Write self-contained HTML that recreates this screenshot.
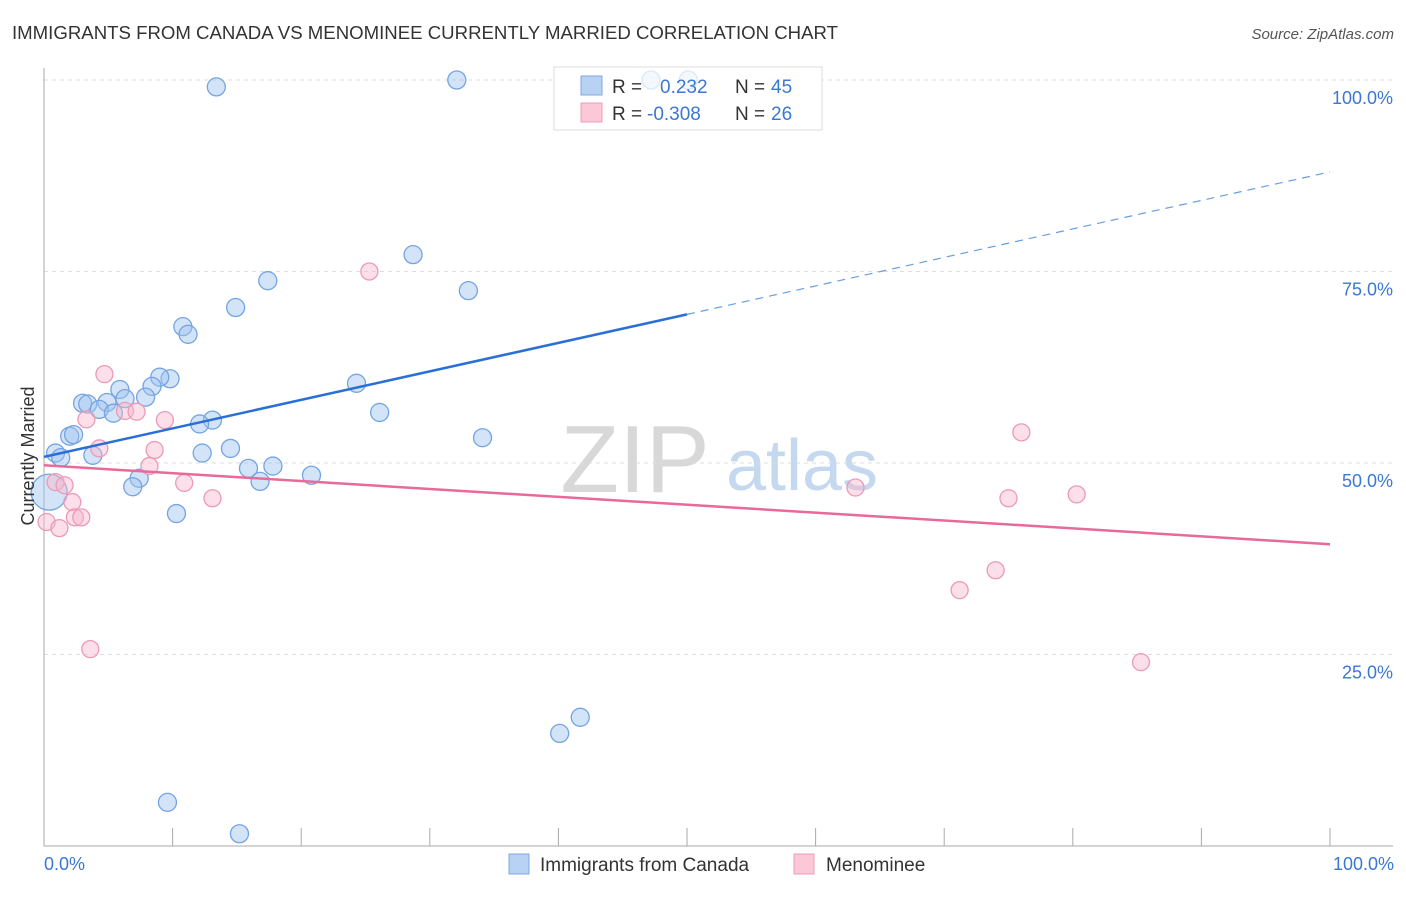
<!DOCTYPE html>
<html><head><meta charset="utf-8"><style>
body{margin:0;background:#fff;font-family:"Liberation Sans",sans-serif;}
svg text{font-family:"Liberation Sans",sans-serif;}
</style></head><body>
<svg width="1406" height="892" xmlns="http://www.w3.org/2000/svg" id="chart">
<text x="12" y="39" font-size="18" fill="#333" textLength="826" lengthAdjust="spacingAndGlyphs">IMMIGRANTS FROM CANADA VS MENOMINEE CURRENTLY MARRIED CORRELATION CHART</text>
<text x="1394" y="39" font-size="15" fill="#555" font-style="italic" text-anchor="end">Source: ZipAtlas.com</text>
<g>
<text x="635" y="492" font-size="96" fill="#d8d8d8" font-family="Liberation Serif,serif" text-anchor="middle">ZIP</text>
<text x="802" y="490" font-size="72" fill="#c4d8f0" text-anchor="middle">atlas</text>
</g>
<g id="grid"></g>
<g id="axes"></g>
<g>
<rect x="554" y="67" width="268" height="63" fill="#fff" stroke="#ddd"/>
</g>
<g id="marks"></g>
<g>
<rect x="554" y="67" width="268" height="63" fill="rgba(255,255,255,0.75)" stroke="#ddd"/>
<rect x="581" y="76" width="21" height="19" fill="#b8d2f4" stroke="#7ea8e4"/>
<rect x="581" y="103" width="21" height="19" fill="#fbc8d8" stroke="#ee9cb8"/>
<text x="612" y="93" font-size="19" fill="#333">R = </text>
<text x="660" y="93" font-size="19" fill="#3a78d4">0.232</text>
<text x="735" y="93" font-size="19" fill="#333">N = </text>
<text x="771" y="93" font-size="19" fill="#3a78d4">45</text>
<text x="612" y="120" font-size="19" fill="#333">R = </text>
<text x="647" y="120" font-size="19" fill="#3a78d4">-0.308</text>
<text x="735" y="120" font-size="19" fill="#333">N = </text>
<text x="771" y="120" font-size="19" fill="#3a78d4">26</text>
</g>
<text transform="translate(34,456) rotate(-90)" font-size="18" fill="#333" text-anchor="middle">Currently Married</text>
<text x="44" y="870" font-size="18" fill="#3a78d4">0.0%</text>
<text x="1394" y="870" font-size="18" fill="#3a78d4" text-anchor="end">100.0%</text>
<g>
<rect x="509" y="854" width="20" height="20" fill="#b8d2f4" stroke="#7ea8e4"/>
<text x="540" y="871" font-size="19" fill="#333">Immigrants from Canada</text>
<rect x="794" y="854" width="20" height="20" fill="#fbc8d8" stroke="#ee9cb8"/>
<text x="826" y="871" font-size="19" fill="#333">Menominee</text>
</g>
</svg>
<script>
const blueX=[13.4,32.1,47.2,50.1,28.7,17.4,33.0,14.9,10.8,11.2,24.3,9.8,9.0,8.4,5.9,7.9,6.3,4.9,3.0,3.4,4.3,5.4,26.1,13.1,12.1,34.1,2.0,2.3,14.5,12.3,0.9,1.3,3.8,17.8,15.9,7.4,16.8,20.8,6.9,10.3,0.4,41.7,40.1,9.6,15.2];
const blueY=[99.1,100,100,100,77.2,73.8,72.5,70.3,67.8,66.8,60.4,61.0,61.2,60.0,59.6,58.6,58.4,57.9,57.8,57.7,57.0,56.5,56.6,55.6,55.1,53.3,53.5,53.7,51.9,51.3,51.3,50.7,51.0,49.6,49.3,48.0,47.6,48.4,46.9,43.4,46.2,16.8,14.7,5.7,1.6];
const blueR=[9,9,9,9,9,9,9,9,9,9,9,9,9,9,9,9,9,9,9,9,9,9,9,9,9,9,9,9,9,9,9,9,9,9,9,9,9,9,9,9,18,9,9,9,9];
const pinkX=[4.7,25.3,6.3,7.2,3.3,9.4,4.3,8.6,8.2,76.0,10.9,0.9,1.6,13.1,2.2,63.1,80.3,75.0,2.4,2.9,0.2,1.2,74.0,71.2,3.6,85.3];
const pinkY=[61.6,75.0,56.8,56.7,55.7,55.6,51.9,51.7,49.6,54.0,47.4,47.5,47.1,45.4,44.9,46.8,45.9,45.4,42.9,42.9,42.3,41.5,36.0,33.4,25.7,24.0];
const trendX=[0,50,100];
const blueTrend=[50.8,69.4,88.0];
const pinkTrend=[49.7,44.55,39.4];
const yTicks=[25,50,75,100];
const yTickLabels=["25.0%","50.0%","75.0%","100.0%"];
const xTicks=[10,20,30,40,50,60,70,80,90,100];
const X=v=>44+v*12.86, Y=v=>846-v*7.66;
const NS="http://www.w3.org/2000/svg";
function mk(tag,attrs,parent){const e=document.createElementNS(NS,tag);for(const k in attrs)e.setAttribute(k,attrs[k]);parent.appendChild(e);return e;}
const grid=document.getElementById('grid'),axes=document.getElementById('axes'),marks=document.getElementById('marks');
yTicks.forEach((t,i)=>{
 const l=mk('line',{x1:44,x2:1393,y1:Y(t),y2:Y(t),stroke:'#ddd','stroke-dasharray':'4,4'},grid);
 
 
 const tx=mk('text',{x:1393,y:Y(t)+24,'font-size':18,fill:'#3a78d4','text-anchor':'end'},axes);
 tx.textContent=yTickLabels[i];
 
 
});
const ax=mk('line',{x1:44,x2:44,y1:68,y2:846,stroke:'#aaa'},axes);


const bx=mk('line',{x1:44,x2:1393,y1:846,y2:846,stroke:'#aaa'},axes);


xTicks.forEach(t=>{
 const l=mk('line',{x1:X(t),x2:X(t),y1:828,y2:846,stroke:'#aaa'},axes);
 
 
});
blueX.forEach((v,i)=>{
 const c=mk('circle',{cx:X(v),cy:Y(blueY[i]),r:blueR[i],fill:'rgba(160,196,240,0.45)',stroke:'#74a4e2','stroke-width':1.3},marks);
 
 
});
pinkX.forEach((v,i)=>{
 const c=mk('circle',{cx:X(v),cy:Y(pinkY[i]),r:8.5,fill:'rgba(248,185,205,0.45)',stroke:'#ec9ab6','stroke-width':1.3},marks);
 
 
});
const b1=mk('line',{x1:X(trendX[0]),y1:Y(blueTrend[0]),x2:X(trendX[1]),y2:Y(blueTrend[1]),stroke:'#2a6fd6','stroke-width':2.5},marks);


const b2=mk('line',{x1:X(trendX[1]),y1:Y(blueTrend[1]),x2:X(trendX[2]),y2:Y(blueTrend[2]),stroke:'#6a9ee0','stroke-width':1.2,'stroke-dasharray':'8,6'},marks);


const p1=mk('line',{x1:X(trendX[0]),y1:Y(pinkTrend[0]),x2:X(trendX[2]),y2:Y(pinkTrend[2]),stroke:'#e8699a','stroke-width':2.5},marks);


</script>
</body></html>
